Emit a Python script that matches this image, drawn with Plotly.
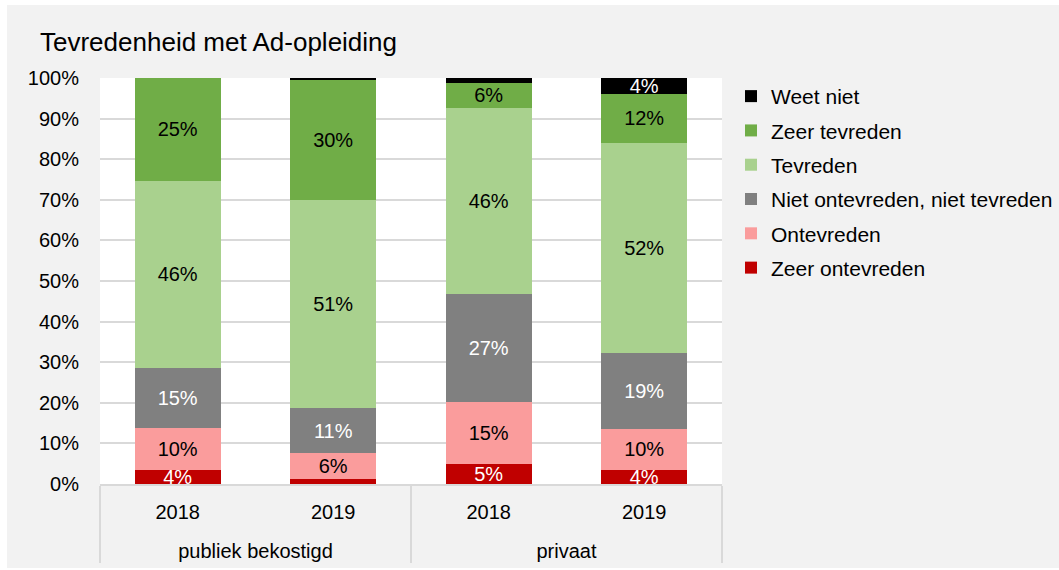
import plotly.graph_objects as go

groups = ["publiek bekostigd", "publiek bekostigd", "privaat", "privaat"]
years = ["2018", "2019", "2018", "2019"]

series_names = ["Zeer ontevreden", "Ontevreden", "Niet ontevreden, niet tevreden",
                "Tevreden", "Zeer tevreden", "Weet niet"]
zeer_ontevreden = [3.5, 1.2, 4.9, 3.5]
ontevreden = [10.2, 6.4, 15.3, 10.0]
neutraal = [14.9, 11.1, 26.6, 18.7]
tevreden = [46.1, 51.3, 45.9, 51.8]
zeer_tevreden = [25.3, 29.7, 6.1, 12.1]
weet_niet = [0.0, 0.3, 1.2, 3.9]

series_values = [zeer_ontevreden, ontevreden, neutraal, tevreden, zeer_tevreden, weet_niet]
colors = ["#c00000", "#fa9c9c", "#808080", "#a9d18e", "#70ad47", "#000000"]
text_colors = ["white", "black", "white", "black", "black", "white"]

y_ticks = list(range(0, 101, 10))
y_tick_labels = [f"{t}%" for t in y_ticks]

FONT = "Liberation Sans, Arial, sans-serif"
# small invisible second line under the year labels, to space the group row lower
YEAR_SPACER = "<br><span style='font-size:10px'>&nbsp;</span>"
year_labels = [y + YEAR_SPACER for y in years]

fig = go.Figure()
n = len(series_names)
for i, (name, vals) in enumerate(zip(series_names, series_values)):
    labels = [f"{round(v)}%" if v >= 2 else "" for v in vals]
    fig.add_trace(go.Bar(
        x=[groups, year_labels],
        y=vals,
        name=name,
        legendgroup=name,
        legendrank=n - i,
        marker=dict(color=colors[i], line=dict(width=0)),
        text=labels,
        textposition="inside",
        insidetextanchor="middle",
        textangle=0,
        textfont=dict(color=text_colors[i], size=20, family=FONT),
        cliponaxis=True,
        hoverinfo="skip",
    ))

fig.update_layout(
    barmode="stack",
    bargap=0.447,
    width=1059,
    height=570,
    margin=dict(l=100, r=337, t=78, b=86),
    paper_bgcolor="white",
    plot_bgcolor="white",
    font=dict(family=FONT, size=20, color="#000000"),
    uniformtext=dict(minsize=20, mode="show"),
    title=dict(text="Tevredenheid met Ad-opleiding", x=40 / 1059, xanchor="left",
               y=1 - 42 / 570, yanchor="middle",
               font=dict(size=26, family=FONT, color="#000000")),
    legend=dict(
        xref="container", x=731 / 1059, xanchor="left",
        y=1.005, yanchor="top",
        traceorder="grouped", tracegroupgap=4,
        font=dict(size=21, family=FONT, color="#000000"),
        bgcolor="rgba(0,0,0,0)", borderwidth=0,
    ),
    shapes=[
        dict(type="rect", xref="paper", yref="paper", layer="below",
             x0=(7 - 100) / 622, x1=(1059 - 100) / 622,
             y0=(484 - 568) / 406, y1=(484 - 5) / 406,
             fillcolor="#f2f2f2", line=dict(width=0)),
        dict(type="rect", xref="x domain", yref="y domain", layer="below",
             x0=0, x1=1, y0=0, y1=1, fillcolor="white", line=dict(width=0)),
    ],
)

fig.update_xaxes(
    type="multicategory", automargin=False,
    showline=True, linecolor="#d9d9d9", linewidth=1.5,
    showdividers=True, dividercolor="#d9d9d9", dividerwidth=1.5,
    ticks="", ticklabelstandoff=9,
    tickfont=dict(size=20, family=FONT, color="#000000"),
    showgrid=False,
)
fig.update_yaxes(
    range=[0, 100], automargin=False,
    tickvals=y_ticks, ticktext=y_tick_labels,
    showgrid=True, gridcolor="#d9d9d9", gridwidth=1.5,
    zeroline=False, showline=False,
    ticks="", ticklabelstandoff=20,
    tickfont=dict(size=20, family=FONT, color="#000000"),
)

fig.write_html("out.html", config={"displayModeBar": False},
               post_script="document.body.style.margin='0';")
